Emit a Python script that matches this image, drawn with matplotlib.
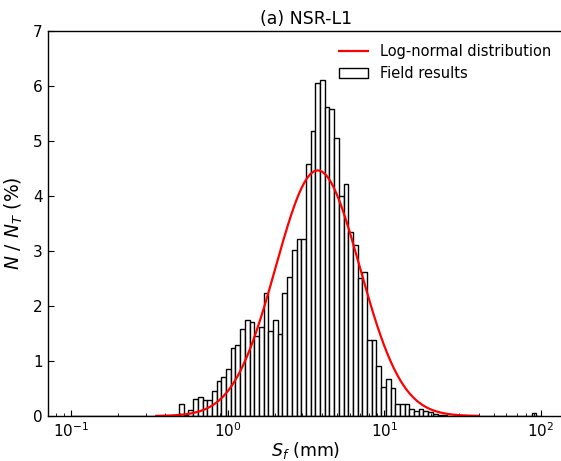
import numpy as np
import matplotlib
matplotlib.use("Agg")
import matplotlib.pyplot as plt

# Histogram: 100 log-spaced bins between 0.1 and 100 mm, heights in %
bin_lo_exp = -1.0
bin_hi_exp = 2.0
n_bins = 100
heights = [0.0] * 23 + [
    0.22, 0.02, 0.10, 0.30, 0.345, 0.29, 0.29, 0.455, 0.636, 0.715,   # 23-32
    0.85, 1.24, 1.285, 1.576, 1.745, 1.70, 1.45, 1.62, 2.23, 1.545,   # 33-42
    1.745, 1.49, 2.24, 2.53, 3.02, 3.22, 3.22, 4.58, 5.17, 6.04,      # 43-52
    6.11, 5.62, 5.58, 5.04, 4.00, 4.22, 3.35, 3.11, 2.50, 2.61,       # 53-62
    1.38, 1.38, 0.915, 0.53, 0.67, 0.50, 0.22, 0.22, 0.22, 0.13,      # 63-72
    0.09, 0.13, 0.09, 0.07, 0.04, 0.02, 0.01,                         # 73-79
] + [0.0] * 18 + [0.06, 0.0]                                          # 80-99

# Log-normal fit parameters (in ln space)
ln_mu = np.log(3.76)
ln_sigma = 0.618
curve_x_min = 0.35
curve_x_max = 40.0

edges = np.logspace(bin_lo_exp, bin_hi_exp, n_bins + 1)
dln = np.log(edges[1]) - np.log(edges[0])

xc = np.logspace(np.log10(curve_x_min), np.log10(curve_x_max), 400)
yc = 100 * dln * np.exp(-(np.log(xc) - ln_mu) ** 2 / (2 * ln_sigma ** 2)) / (ln_sigma * np.sqrt(2 * np.pi))

plt.rcParams['font.family'] = ['DejaVu Sans']
fig = plt.figure(figsize=(5.61, 4.61), dpi=100)
ax = fig.add_axes([0.0847, 0.0976, 0.9214, 0.8362])

bars = ax.bar(edges[:-1], heights, width=np.diff(edges), align='edge',
              facecolor='white', edgecolor='black', linewidth=1.0,
              label='Field results')
line, = ax.plot(xc, yc, color='red', linewidth=1.6, label='Log-normal distribution')

ax.set_xscale('log')
ax.set_xlim(10 ** -1.15, 10 ** 2.15)
ax.set_ylim(0, 7)
ax.set_yticks(range(0, 8))

ax.tick_params(axis='both', which='major', direction='in', length=4, labelsize=11)
ax.tick_params(axis='x', which='minor', direction='in', length=2)
for s in ax.spines.values():
    s.set_linewidth(1.0)

ax.set_title('(a) NSR-L1', fontsize=12.5, pad=5)
ax.set_xlabel('$S_f$ (mm)', fontsize=12.5, labelpad=0)
ax.set_ylabel('$N$ / $N_T$ (%)', fontsize=13.5, labelpad=6)

ax.legend(handles=[line, bars], labels=['Log-normal distribution', 'Field results'],
          loc='upper right', frameon=False, fontsize=10.5)

fig.savefig('out.png', dpi=100)
